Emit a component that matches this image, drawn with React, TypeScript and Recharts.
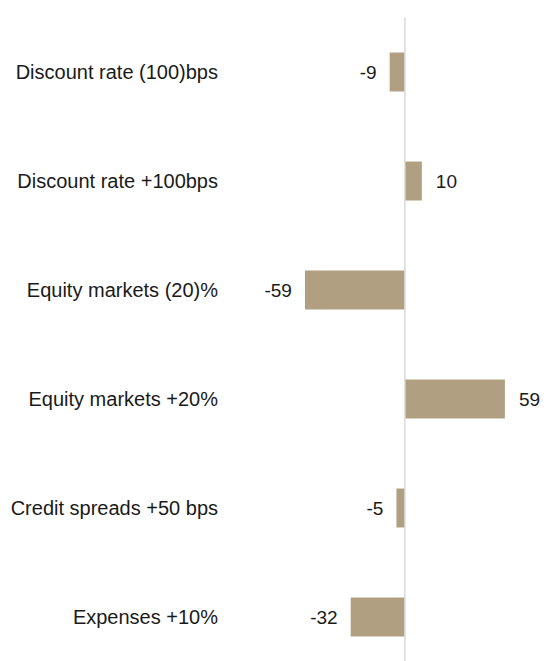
import React from 'react';
import { BarChart, Bar, XAxis, YAxis, ReferenceLine, LabelList } from 'recharts';

const SCENARIOS = [
  'Discount rate (100)bps',
  'Discount rate +100bps',
  'Equity markets (20)%',
  'Equity markets +20%',
  'Credit spreads +50 bps',
  'Expenses +10%',
];

const IMPACTS = [-9, 10, -59, 59, -5, -32];

const BAR_COLOR = '#b0a081';
const TEXT_COLOR = '#1a1a1a';
const FONT = '"Liberation Sans", Arial, sans-serif';

const chartData = SCENARIOS.map((name, i) => ({ name, value: IMPACTS[i] }));

const ValueLabel = (props: any) => {
  const { x, y, width, height, value } = props;
  const left = Math.min(x, x + width);
  const right = Math.max(x, x + width);
  const neg = value < 0;
  return (
    <text
      x={neg ? left - 13 : right + 14}
      y={y + height / 2}
      textAnchor={neg ? 'end' : 'start'}
      dominantBaseline="central"
      fontFamily={FONT}
      fontSize={19}
      fill={TEXT_COLOR}
    >
      {value}
    </text>
  );
};

export default function App() {
  return (
    <div style={{ position: 'absolute', top: 0, left: 0, width: 544, height: 661, overflow: 'hidden', background: '#fff' }}>
      <BarChart
        width={544}
        height={672}
        data={chartData}
        layout="vertical"
        margin={{ top: 17.5, right: 12, bottom: 0.5, left: 0 }}
      >
        <XAxis type="number" domain={[-105, 75]} hide />
        <YAxis
          type="category"
          dataKey="name"
          width={227}
          tickSize={0}
          tickMargin={9}
          axisLine={false}
          tickLine={false}
          interval={0}
          tick={{ fontFamily: FONT, fontSize: 20, fill: TEXT_COLOR }}
        />
        <Bar dataKey="value" fill={BAR_COLOR} barSize={39} isAnimationActive={false}>
          <LabelList dataKey="value" content={ValueLabel} />
        </Bar>
        <ReferenceLine x={0} stroke="#d9d9d9" strokeWidth={1.5} />
      </BarChart>
    </div>
  );
}
